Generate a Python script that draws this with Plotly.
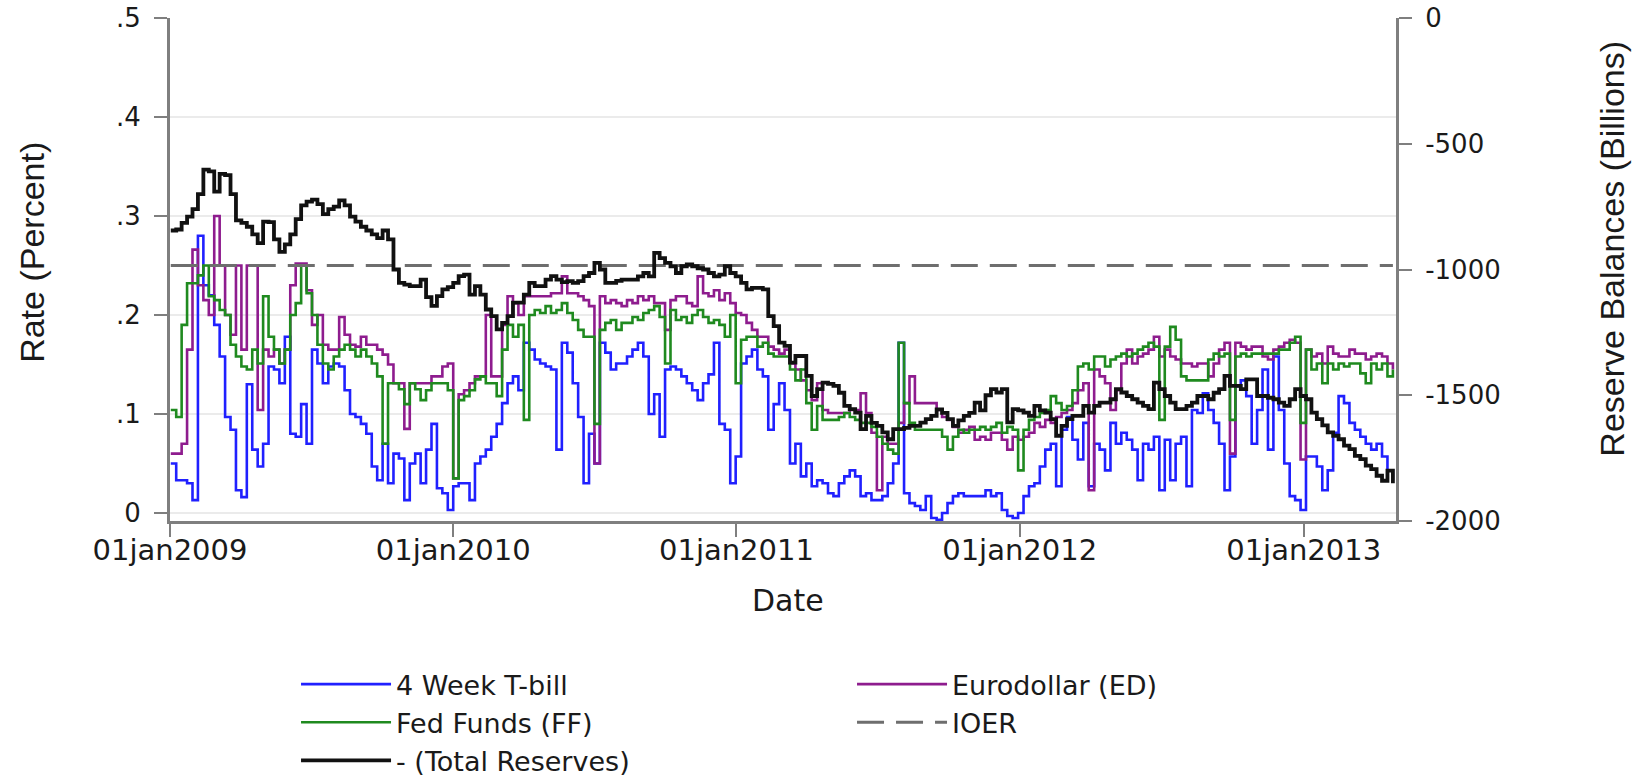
import pandas as pd
import plotly.graph_objects as go

start_date = "2009-01-02"
n_weeks = 226
dates = pd.date_range(start_date, periods=n_weeks, freq="7D")

tbill_4wk = [
    0.05, 0.033, 0.033, 0.03, 0.013, 0.28, 0.23, 0.22, 0.19, 0.158,
    0.097, 0.084, 0.023, 0.016, 0.13, 0.064, 0.047, 0.07, 0.148, 0.145,
    0.131, 0.178, 0.08, 0.077, 0.11, 0.07, 0.165, 0.151, 0.131, 0.148,
    0.151, 0.148, 0.124, 0.10, 0.097, 0.09, 0.08, 0.047, 0.033,
    0.07, 0.03, 0.06, 0.055, 0.013, 0.05, 0.06, 0.03, 0.064, 0.09,
    0.025, 0.02, 0.003, 0.027, 0.03, 0.03, 0.013, 0.05, 0.057, 0.064,
    0.077, 0.09, 0.111, 0.131, 0.138, 0.124, 0.172, 0.165, 0.155, 0.151,
    0.148, 0.145, 0.064, 0.172, 0.162, 0.131, 0.097, 0.03,
    0.08, 0.05, 0.172, 0.162, 0.145, 0.151, 0.151, 0.158, 0.165, 0.172,
    0.158, 0.1, 0.12, 0.077, 0.145, 0.148, 0.145, 0.138, 0.131, 0.124,
    0.114, 0.131, 0.14, 0.172, 0.09, 0.084, 0.03, 0.057, 0.151, 0.158,
    0.165, 0.145, 0.138, 0.084, 0.11, 0.131, 0.104, 0.05,
    0.07, 0.037, 0.05, 0.027, 0.033, 0.03, 0.02, 0.017, 0.03, 0.037,
    0.043, 0.037, 0.017, 0.02, 0.013, 0.013, 0.017, 0.03, 0.05, 0.172,
    0.02, 0.01, 0.007, 0.003, 0.017, -0.005, -0.007, 0.0, 0.01, 0.017,
    0.02, 0.017, 0.017, 0.017, 0.017, 0.023, 0.017,
    0.02, 0.003, -0.003, -0.005, 0.0, 0.017, 0.027, 0.03, 0.047, 0.064,
    0.07, 0.027, 0.084, 0.097, 0.074, 0.054, 0.091, 0.027, 0.07, 0.064,
    0.043, 0.091, 0.07, 0.081, 0.074, 0.064, 0.033, 0.07, 0.064, 0.077,
    0.023, 0.074, 0.033, 0.07, 0.077, 0.027, 0.104, 0.101,
    0.121, 0.104, 0.091, 0.07, 0.023, 0.057, 0.128, 0.134, 0.118, 0.07,
    0.104, 0.145, 0.064, 0.158, 0.104, 0.05, 0.017, 0.013, 0.003, 0.057,
    0.057, 0.047, 0.023, 0.043, 0.081, 0.118, 0.111, 0.091, 0.084, 0.077,
    0.07, 0.064, 0.07, 0.057, 0.043, 0.033,
]

eurodollar = [
    0.06, 0.06, 0.07, 0.165, 0.266, 0.23, 0.215, 0.2, 0.30, 0.25,
    0.2, 0.18, 0.25, 0.165, 0.25, 0.25, 0.104, 0.165, 0.158, 0.165,
    0.151, 0.165, 0.23, 0.252, 0.252, 0.225, 0.19, 0.2, 0.17, 0.165,
    0.165, 0.198, 0.18, 0.17, 0.168, 0.178, 0.17, 0.17, 0.165,
    0.16, 0.15, 0.131, 0.131, 0.085, 0.131, 0.131, 0.131, 0.131, 0.138,
    0.138, 0.148, 0.151, 0.035, 0.12, 0.124, 0.131, 0.138, 0.138, 0.2,
    0.138, 0.138, 0.19, 0.219, 0.212, 0.2, 0.219, 0.219, 0.219, 0.219,
    0.219, 0.222, 0.222, 0.239, 0.222, 0.222, 0.219, 0.215,
    0.209, 0.05, 0.219, 0.212, 0.215, 0.212, 0.209, 0.215, 0.212, 0.219,
    0.215, 0.219, 0.212, 0.212, 0.185, 0.215, 0.219, 0.219, 0.212, 0.209,
    0.239, 0.222, 0.219, 0.225, 0.215, 0.222, 0.212, 0.202, 0.2, 0.192,
    0.185, 0.178, 0.178, 0.168, 0.165, 0.161, 0.165, 0.151,
    0.145, 0.134, 0.124, 0.114, 0.131, 0.104, 0.101, 0.101, 0.101, 0.101,
    0.104, 0.104, 0.121, 0.101, 0.081, 0.023, 0.077, 0.07, 0.07, 0.091,
    0.111, 0.138, 0.111, 0.111, 0.111, 0.111, 0.104, 0.097, 0.094, 0.087,
    0.081, 0.084, 0.087, 0.074, 0.077, 0.074, 0.081,
    0.081, 0.074, 0.064, 0.077, 0.074, 0.077, 0.081, 0.091, 0.087, 0.094,
    0.091, 0.097, 0.101, 0.104, 0.111, 0.124, 0.131, 0.023, 0.145, 0.138,
    0.131, 0.104, 0.124, 0.151, 0.165, 0.151, 0.158, 0.161, 0.165, 0.178,
    0.158, 0.165, 0.158, 0.155, 0.151, 0.151, 0.148, 0.151,
    0.151, 0.138, 0.151, 0.165, 0.172, 0.06, 0.172, 0.168, 0.165, 0.168,
    0.168, 0.158, 0.155, 0.165, 0.168, 0.172, 0.175, 0.172, 0.054, 0.165,
    0.158, 0.161, 0.151, 0.168, 0.161, 0.158, 0.158, 0.165, 0.161, 0.161,
    0.155, 0.158, 0.161, 0.158, 0.151, 0.145,
]

fed_funds = [
    0.104, 0.097, 0.19, 0.232, 0.232, 0.24, 0.25, 0.219, 0.215, 0.205,
    0.2, 0.17, 0.158, 0.148, 0.145, 0.165, 0.151, 0.219, 0.178, 0.165,
    0.151, 0.165, 0.2, 0.212, 0.25, 0.222, 0.2, 0.17, 0.151, 0.145,
    0.158, 0.165, 0.17, 0.165, 0.158, 0.165, 0.158, 0.151, 0.138,
    0.07, 0.131, 0.131, 0.125, 0.11, 0.131, 0.125, 0.114, 0.124, 0.131,
    0.131, 0.131, 0.124, 0.035, 0.114, 0.118, 0.124, 0.135, 0.138, 0.131,
    0.131, 0.118, 0.165, 0.19, 0.178, 0.19, 0.094, 0.2, 0.205, 0.202,
    0.209, 0.202, 0.205, 0.212, 0.202, 0.195, 0.185, 0.178,
    0.178, 0.09, 0.185, 0.192, 0.195, 0.185, 0.192, 0.192, 0.198, 0.195,
    0.202, 0.205, 0.209, 0.198, 0.151, 0.205, 0.195, 0.198, 0.192, 0.2,
    0.205, 0.198, 0.192, 0.195, 0.19, 0.178, 0.2, 0.131, 0.175, 0.178,
    0.178, 0.168, 0.172, 0.161, 0.158, 0.158, 0.158, 0.145,
    0.134, 0.145, 0.111, 0.084, 0.108, 0.094, 0.094, 0.094, 0.097, 0.101,
    0.097, 0.094, 0.091, 0.091, 0.087, 0.077, 0.07, 0.064, 0.06, 0.172,
    0.111, 0.091, 0.084, 0.084, 0.084, 0.084, 0.084, 0.077, 0.064, 0.077,
    0.084, 0.081, 0.084, 0.084, 0.087, 0.084, 0.087,
    0.091, 0.081, 0.087, 0.084, 0.043, 0.084, 0.094, 0.097, 0.101, 0.104,
    0.118, 0.111, 0.104, 0.108, 0.124, 0.148, 0.151, 0.145, 0.158, 0.158,
    0.148, 0.155, 0.158, 0.161, 0.158, 0.161, 0.165, 0.168, 0.172, 0.168,
    0.094, 0.168, 0.188, 0.175, 0.138, 0.134, 0.134, 0.134,
    0.134, 0.155, 0.161, 0.158, 0.161, 0.094, 0.158, 0.161, 0.158, 0.161,
    0.161, 0.161, 0.161, 0.161, 0.165, 0.165, 0.172, 0.178, 0.091, 0.165,
    0.145, 0.151, 0.131, 0.151, 0.145, 0.151, 0.148, 0.151, 0.151, 0.141,
    0.131, 0.151, 0.145, 0.151, 0.138, 0.145,
]

ioer_rate = 0.25

total_reserves = [  # billions of dollars (plotted as negative)
    845, 841, 815, 790, 760, 700, 603, 610, 690, 620,
    625, 700, 805, 815, 830, 860, 895, 810, 812, 880,
    930, 900, 860, 800, 745, 730, 722, 740, 780, 760,
    750, 725, 745, 790, 810, 830, 845, 860, 875,
    845, 880, 1000, 1053, 1060, 1066, 1066, 1040, 1110, 1145,
    1106, 1079, 1070, 1053, 1026, 1020, 1100, 1066, 1100, 1159,
    1185, 1238, 1212, 1185, 1132, 1132, 1100, 1053, 1066, 1066,
    1040, 1026, 1040, 1050, 1046, 1053, 1046, 1026,
    1014, 974, 1000, 1053, 1053, 1045, 1040, 1040, 1040, 1027,
    1014, 1027, 934, 955, 974, 987, 1014, 987, 980, 987,
    995, 1000, 1014, 1027, 1020, 987, 1014, 1027, 1053, 1079,
    1073, 1073, 1079, 1185, 1225, 1291, 1304, 1370,
    1344, 1344, 1423, 1503, 1476, 1450, 1455, 1463, 1490, 1542,
    1555, 1569, 1635, 1582, 1610, 1622, 1648, 1675, 1635, 1635,
    1630, 1622, 1622, 1609, 1595, 1582, 1556, 1570, 1595, 1622,
    1600, 1582, 1570, 1529, 1560, 1500, 1476,
    1489, 1476, 1608, 1555, 1560, 1569, 1582, 1542, 1560, 1569,
    1595, 1661, 1622, 1595, 1582, 1582, 1542, 1569, 1542, 1529,
    1529, 1516, 1476, 1489, 1503, 1516, 1529, 1542, 1555, 1450,
    1476, 1503, 1529, 1555, 1555, 1542, 1529, 1503,
    1503, 1516, 1490, 1476, 1423, 1463, 1463, 1476, 1437, 1437,
    1503, 1503, 1510, 1516, 1529, 1542, 1516, 1476, 1503, 1516,
    1569, 1595, 1620, 1648, 1661, 1675, 1700, 1714, 1741, 1754,
    1780, 1794, 1820, 1840, 1800, 1850,
]

x_tick_dates = ["2009-01-01", "2010-01-01", "2011-01-01", "2012-01-01", "2013-01-01"]
x_tick_labels = ["01jan2009", "01jan2010", "01jan2011", "01jan2012", "01jan2013"]
rate_ticks = [0, 0.1, 0.2, 0.3, 0.4, 0.5]
rate_tick_labels = ["0", ".1", ".2", ".3", ".4", ".5"]
res_ticks = [0, -500, -1000, -1500, -2000]
res_tick_labels = ["0", "-500", "-1000", "-1500", "-2000"]

# ---------------- figure ----------------
AX = "#7f7f7f"
TXT = "#1a1a1a"
HFONT = "DejaVu Sans"
VFONT = "Liberation Sans, Arial, sans-serif"

fig = go.Figure()
fig.add_trace(go.Scatter(x=dates, y=tbill_4wk, name="4 Week T-bill", mode="lines",
                         legend="legend",
                         line=dict(color="#2020ff", width=2.6, shape="hv")))
fig.add_trace(go.Scatter(x=dates, y=eurodollar, name="Eurodollar (ED)", mode="lines",
                         legend="legend2",
                         line=dict(color="#8e1c8e", width=2.6, shape="hv")))
fig.add_trace(go.Scatter(x=dates, y=fed_funds, name="Fed Funds (FF)", mode="lines",
                         legend="legend",
                         line=dict(color="#1f8a1f", width=2.6, shape="hv")))
fig.add_trace(go.Scatter(x=dates, y=[ioer_rate] * len(dates), name="IOER", mode="lines",
                         legend="legend2",
                         line=dict(color="#6e6e6e", width=3, dash="27px,12px")))
fig.add_trace(go.Scatter(x=dates, y=[-v for v in total_reserves], name="- (Total Reserves)",
                         mode="lines", yaxis="y2", legend="legend",
                         line=dict(color="#111111", width=3.8, shape="hv")))

tick_common = dict(ticks="outside", ticklen=13, tickwidth=2, tickcolor=AX,
                   showline=True, linecolor=AX, linewidth=3, zeroline=False,
                   automargin=False)

legend_common = dict(orientation="v", xanchor="left", y=-0.2764, yanchor="top",
                     itemwidth=90, traceorder="normal",
                     font=dict(family=HFONT, size=27, color=TXT),
                     bgcolor="rgba(0,0,0,0)")

fig.update_layout(
    width=1647, height=778,
    margin=dict(l=170, r=251, t=18, b=257, pad=0, autoexpand=False),
    paper_bgcolor="white", plot_bgcolor="white",
    font=dict(family=HFONT, color=TXT),
    xaxis=dict(
        type="date", range=["2009-01-01", "2013-04-30"],
        tickvals=x_tick_dates, ticktext=x_tick_labels,
        showgrid=False,
        tickfont=dict(family=HFONT, size=29, color=TXT),
        ticklabelstandoff=-12,
        **tick_common,
    ),
    yaxis=dict(
        range=[-0.0081, 0.5],
        tickvals=rate_ticks, ticktext=rate_tick_labels,
        showgrid=True, gridcolor="#ebebeb", gridwidth=2,
        tickfont=dict(family=HFONT, size=26, color=TXT),
        ticklabelstandoff=8,
        **tick_common,
    ),
    yaxis2=dict(
        overlaying="y", side="right", range=[-2000, 0],
        tickvals=res_ticks, ticktext=res_tick_labels,
        showgrid=False,
        tickfont=dict(family=HFONT, size=26, color=TXT),
        ticklabelstandoff=8,
        **tick_common,
    ),
    legend=dict(x=0.1028, **legend_common),
    legend2=dict(x=0.5563, **legend_common),
    showlegend=True,
    annotations=[
        dict(text="Date", xref="paper", yref="paper", x=0.504, y=-0.159,
             xanchor="center", yanchor="middle", showarrow=False,
             font=dict(family=HFONT, size=30, color=TXT)),
        dict(text="Rate (Percent)", xref="paper", yref="paper", x=-0.1126, y=0.535,
             xanchor="center", yanchor="middle", showarrow=False, textangle=-90,
             font=dict(family=VFONT, size=34, color=TXT)),
        dict(text="Reserve Balances (Billions)", xref="paper", yref="paper", x=1.176, y=0.541,
             xanchor="center", yanchor="middle", showarrow=False, textangle=-90,
             font=dict(family=VFONT, size=34, color=TXT)),
    ],
)

fig.write_html(
    "out.html",
    config={"displayModeBar": False},
    post_script="document.body.style.margin='0';document.body.style.overflow='hidden';",
)
